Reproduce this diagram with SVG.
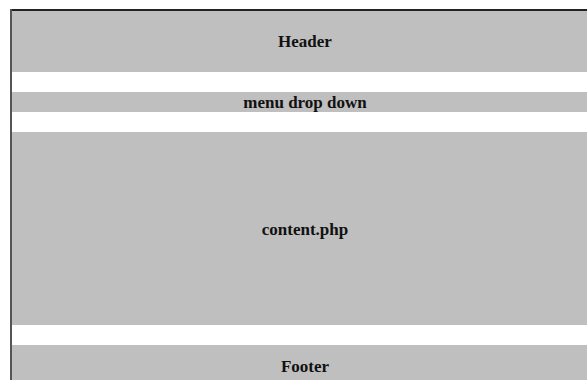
<svg xmlns="http://www.w3.org/2000/svg" width="587" height="380" viewBox="0 0 587 380">
<style>
.band{fill:#bfbfbf}
.lbl{font-family:"Liberation Serif","Times New Roman",serif;font-weight:bold;font-size:17px;fill:#111;text-anchor:middle}
</style>
<rect x="0" y="0" width="587" height="380" fill="#ffffff"/>
<g id="header"><rect class="band" x="12" y="11" width="575" height="61"/><text class="lbl" x="305" y="47">Header</text></g>
<g id="menu"><rect class="band" x="12" y="92" width="575" height="20"/><text class="lbl" x="305" y="108">menu drop down</text></g>
<g id="content"><rect class="band" x="12" y="132" width="575" height="193"/><text class="lbl" x="305" y="235">content.php</text></g>
<g id="footer"><rect class="band" x="12" y="345" width="575" height="35"/><text class="lbl" x="305" y="372">Footer</text></g>
<g id="connectors"></g>
<rect x="10" y="9" width="577" height="2" fill="#222"/>
<rect x="10" y="9" width="2" height="371" fill="#555"/>
</svg>
